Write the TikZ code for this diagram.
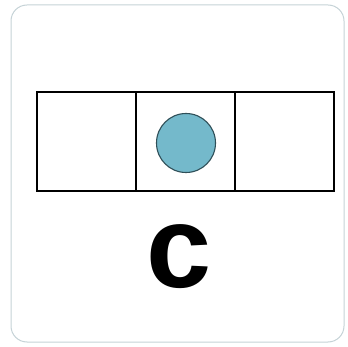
\documentclass[tikz,border=0pt]{standalone}
\usepackage{fontspec}
\setmainfont{Liberation Sans}
\usepackage{xcolor}
\definecolor{cardedge}{HTML}{C5D2D6}
\definecolor{dotblue}{HTML}{74B9CB}
\definecolor{dotedge}{HTML}{2F4F58}

\begin{document}
\begin{tikzpicture}[x=1pt,y=-1pt,
  cell/.style={draw=black, line width=1.1pt, minimum width=99pt, minimum height=99pt, inner sep=0pt, outer sep=0pt},
  dot/.style={circle, fill=dotblue, draw=dotedge, line width=1.1pt, minimum size=59pt, inner sep=0pt}]
				\useasboundingbox (0,0) rectangle (348,347);
				% Card
				\draw[cardedge, line width=1pt, rounded corners=16pt] (11,5) rectangle (344,342);
				
				% Row of cells
				\node[cell, anchor=north west] (left) at (37,92) {};
				\node[cell, anchor=west] (middle) at (left.east) {};
				\node[cell, anchor=west] (right) at (middle.east) {};
				
				% Marker
				\node[dot] (marker) at (186,143) {};
				
				% Label
				\node[anchor=base, inner sep=0pt, font=\fontsize{117}{117}\selectfont\bfseries] (label) at (179,288) {c};
			\end{tikzpicture}
\end{document}
